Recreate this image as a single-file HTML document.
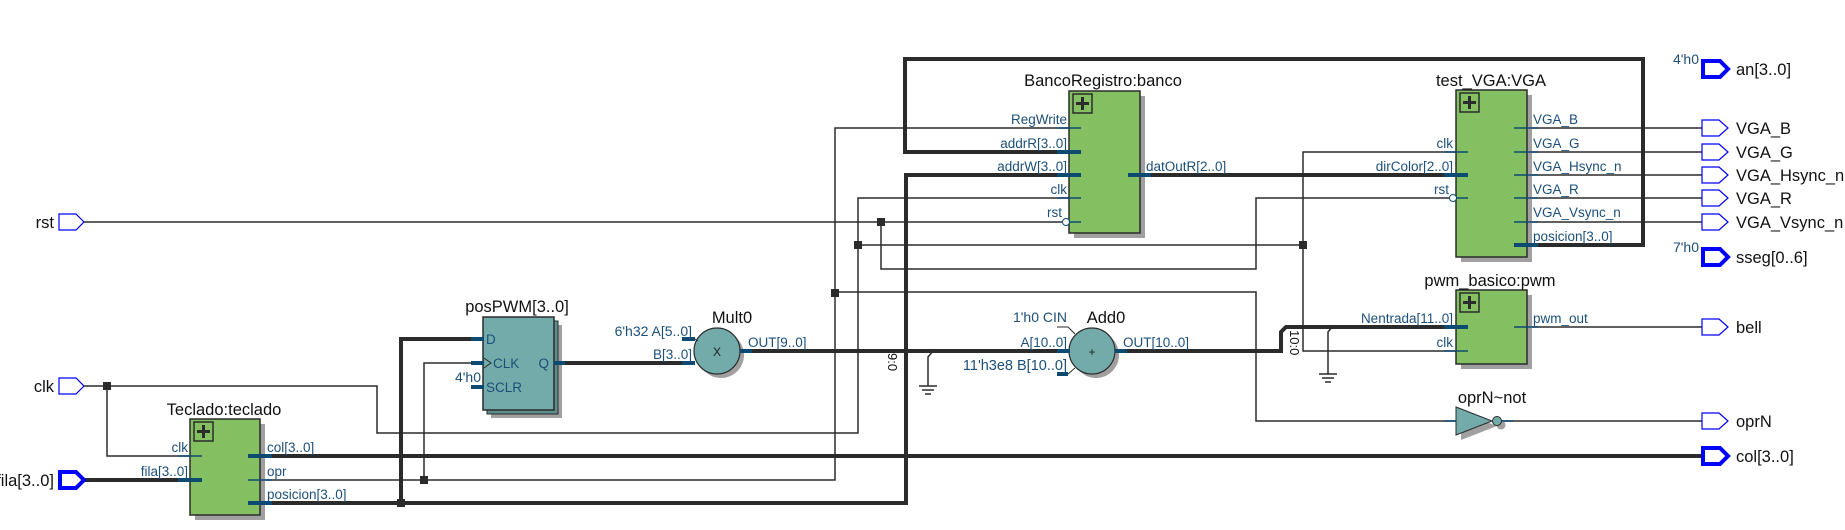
<!DOCTYPE html>
<html><head><meta charset="utf-8"><style>
html,body{margin:0;padding:0;background:#fff;}
svg{display:block;}
text{font-family:"Liberation Sans","DejaVu Sans",sans-serif;}
.t{font-size:16.5px;fill:#111;}
.l{font-size:13.5px;fill:#1c4f7a;}
.p{font-size:16.5px;fill:#111;}
.w{stroke:#2b2b2b;stroke-width:1.5;fill:none;}
.b{stroke:#2b2b2b;stroke-width:4;fill:none;}
.s{stroke:#0d4a72;stroke-width:1.5;}
.sb{stroke:#0d4a72;stroke-width:4;}
.blk{fill:#84c062;stroke:#2b2b2b;stroke-width:1.5;}
.sh{fill:#a0a0a0;}
.pi{fill:none;stroke:#0000ff;stroke-width:1.2;}
.pt{fill:none;stroke:#0000ff;stroke-width:4;}
.j{fill:#2b2b2b;}
</style></head><body>
<svg width="1845" height="530" viewBox="0 0 1845 530" xmlns="http://www.w3.org/2000/svg">
<defs>
<g id="plus"><rect x="0" y="0" width="19" height="19" fill="none" stroke="#2b2b2b" stroke-width="1.5"/><path d="M9.5 3V16M3 9.5H16" stroke="#2b2b2b" stroke-width="3"/></g>
</defs>

<polyline class="b" points="1069,152 905,152 905,59 1643,59 1643,245 1527,245"/>
<polyline class="b" points="260,503 906,503 906,175 1069,175"/>
<polyline class="b" points="401,503 401,339 483,339"/>
<rect class="j" x="397" y="499" width="8" height="8"/>
<line class="b" x1="260" y1="456" x2="1702" y2="456"/>
<line class="b" x1="1140" y1="175" x2="1456" y2="175"/>
<line class="b" x1="554" y1="363" x2="695" y2="363"/>
<line class="b" x1="740" y1="351" x2="1070" y2="351"/>
<polyline class="b" points="1115,351 1281,351 1281,332 1286,327 1456,327"/>
<line class="b" x1="84" y1="480" x2="190" y2="480"/>

<line class="w" x1="84" y1="222" x2="1062" y2="222"/>
<polyline class="w" points="881,222 881,269 1256,269 1256,198 1449,198"/>
<rect class="j" x="877" y="218" width="8" height="8"/>
<polyline class="w" points="84,386 377,386 377,433 858,433 858,198 1069,198"/>
<polyline class="w" points="107,386 107,456 190,456"/>
<rect class="j" x="103" y="382" width="8" height="8"/>
<polyline class="w" points="858,245 1303,245"/>
<rect class="j" x="854" y="241" width="8" height="8"/>
<polyline class="w" points="1456,152 1303,152 1303,351 1456,351"/>
<rect class="j" x="1299" y="241" width="8" height="8"/>
<polyline class="w" points="260,480 835,480 835,128 1069,128"/>
<polyline class="w" points="424,480 424,363 483,363"/>
<rect class="j" x="420" y="476" width="8" height="8"/>
<polyline class="w" points="835,292 1256,292 1256,421 1456,421"/>
<rect class="j" x="831" y="289" width="8" height="8"/>

<line class="w" x1="1527" y1="128" x2="1702" y2="128"/>
<line class="w" x1="1527" y1="152" x2="1702" y2="152"/>
<line class="w" x1="1527" y1="175" x2="1702" y2="175"/>
<line class="w" x1="1527" y1="198" x2="1702" y2="198"/>
<line class="w" x1="1527" y1="222" x2="1702" y2="222"/>
<line class="w" x1="1527" y1="327" x2="1702" y2="327"/>
<line class="w" x1="1501" y1="421" x2="1702" y2="421"/>

<g class="w"><polyline points="933,351 928,357 928,386"/><line x1="919" y1="386" x2="937" y2="386"/><line x1="922" y1="390" x2="934" y2="390"/><line x1="925" y1="394" x2="931" y2="394"/></g>
<g class="w"><polyline points="1332,327 1328,332 1328,374"/><line x1="1319" y1="374" x2="1337" y2="374"/><line x1="1322" y1="378" x2="1334" y2="378"/><line x1="1325" y1="382" x2="1331" y2="382"/></g>
<text x="0" y="0" font-size="13" fill="#111" transform="translate(888,353) rotate(90)">9:0</text>
<text x="0" y="0" font-size="13" fill="#111" transform="translate(1290,330) rotate(90)">10:0</text>

<polygon class="pi" points="59,214 76,214 84,222 76,230 59,230"/>
<text class="p" x="54" y="228" text-anchor="end">rst</text>
<polygon class="pi" points="59,378 76,378 84,386 76,394 59,394"/>
<text class="p" x="54" y="392" text-anchor="end">clk</text>
<polygon class="pt" points="60,472 76,472 84,480 76,488 60,488"/>
<text class="p" x="54" y="486" text-anchor="end">fila[3..0]</text>

<g>
<polygon class="pt" points="1703,61 1720,61 1728,69 1720,77 1703,77"/><text class="p" x="1736" y="75">an[3..0]</text>
<text class="l" x="1699" y="64" text-anchor="end" style="font-size:14px">4'h0</text>
<polygon class="pi" points="1702,120 1719,120 1728,128 1719,136 1702,136"/><text class="p" x="1736" y="134">VGA_B</text>
<polygon class="pi" points="1702,144 1719,144 1728,152 1719,160 1702,160"/><text class="p" x="1736" y="158">VGA_G</text>
<polygon class="pi" points="1702,167 1719,167 1728,175 1719,183 1702,183"/><text class="p" x="1736" y="181">VGA_Hsync_n</text>
<polygon class="pi" points="1702,190 1719,190 1728,198 1719,206 1702,206"/><text class="p" x="1736" y="204">VGA_R</text>
<polygon class="pi" points="1702,214 1719,214 1728,222 1719,230 1702,230"/><text class="p" x="1736" y="228">VGA_Vsync_n</text>
<polygon class="pt" points="1703,249 1720,249 1728,257 1720,265 1703,265"/><text class="p" x="1736" y="263">sseg[0..6]</text>
<text class="l" x="1699" y="252" text-anchor="end" style="font-size:14px">7'h0</text>
<polygon class="pi" points="1702,319 1719,319 1728,327 1719,335 1702,335"/><text class="p" x="1736" y="333">bell</text>
<polygon class="pi" points="1702,413 1719,413 1728,421 1719,429 1702,429"/><text class="p" x="1736" y="427">oprN</text>
<polygon class="pt" points="1703,448 1720,448 1728,456 1720,464 1703,464"/><text class="p" x="1736" y="462">col[3..0]</text>
</g>

<rect class="sh" x="195" y="424" width="70" height="96"/>
<rect class="blk" x="190" y="419" width="70" height="96"/>
<use href="#plus" x="194" y="422"/>
<text class="t" x="224" y="415" text-anchor="middle">Teclado:teclado</text>
<line class="s" x1="178" y1="456" x2="202" y2="456"/><text class="l" x="188" y="452" text-anchor="end">clk</text>
<line class="sb" x1="178" y1="480" x2="202" y2="480"/><text class="l" x="188" y="476" text-anchor="end">fila[3..0]</text>
<line class="sb" x1="248" y1="456" x2="272" y2="456"/><text class="l" x="267" y="452">col[3..0]</text>
<line class="s" x1="248" y1="480" x2="272" y2="480"/><text class="l" x="267" y="476">opr</text>
<line class="sb" x1="248" y1="503" x2="272" y2="503"/><text class="l" x="267" y="499">posicion[3..0]</text>

<rect class="sh" x="491" y="325" width="71" height="93"/>
<rect x="487" y="321" width="71" height="93" fill="#5a8f8e" stroke="#2b2b2b" stroke-width="1"/>
<rect x="483" y="317" width="71" height="93" fill="#72abaa" stroke="#2b2b2b" stroke-width="1.5"/>
<text class="t" x="517" y="312" text-anchor="middle">posPWM[3..0]</text>
<line class="sb" x1="471" y1="339" x2="484" y2="339"/><text class="l" x="486" y="344">D</text>
<line class="sb" x1="471" y1="363" x2="484" y2="363"/><polyline points="484,358 491,363 484,368" fill="none" stroke="#2b2b2b" stroke-width="1"/><text class="l" x="493" y="368">CLK</text>
<line class="sb" x1="471" y1="387" x2="484" y2="387"/><text class="l" x="486" y="392">SCLR</text>
<text class="l" x="481" y="382" text-anchor="end" style="font-size:14px">4'h0</text>
<text class="l" x="549" y="368" text-anchor="end">Q</text>
<line class="sb" x1="554" y1="363" x2="565" y2="363"/>

<circle cx="721" cy="355" r="23" fill="#a0a0a0"/>
<circle cx="717" cy="351" r="23" fill="#72abaa" stroke="#2b2b2b" stroke-width="1.2"/>
<text x="717" y="356" font-size="12" text-anchor="middle" fill="#222">X</text>
<text class="t" x="732" y="323" text-anchor="middle">Mult0</text>
<line class="sb" x1="682" y1="339" x2="695" y2="339"/><line x1="695" y1="339" x2="698" y2="341" stroke="#2b2b2b"/>
<text class="l" x="692" y="336" text-anchor="end" style="font-size:14px">6'h32 A[5..0]</text>
<line class="sb" x1="682" y1="363" x2="695" y2="363"/>
<text class="l" x="692" y="359" text-anchor="end">B[3..0]</text>
<line class="sb" x1="740" y1="351" x2="752" y2="351"/>
<text class="l" x="748" y="347">OUT[9..0]</text>

<circle cx="1096" cy="355" r="23" fill="#a0a0a0"/>
<circle cx="1092" cy="351" r="23" fill="#72abaa" stroke="#2b2b2b" stroke-width="1.2"/>
<text x="1092" y="356" font-size="12" text-anchor="middle" fill="#222">+</text>
<text class="t" x="1106" y="323" text-anchor="middle">Add0</text>
<polyline points="1057,327 1068,327 1075,334" fill="none" stroke="#2b2b2b" stroke-width="1"/>
<text class="l" x="1067" y="322" text-anchor="end" style="font-size:14px">1'h0 CIN</text>
<line class="sb" x1="1057" y1="351" x2="1070" y2="351"/>
<text class="l" x="1067" y="347" text-anchor="end">A[10..0]</text>
<line class="sb" x1="1057" y1="374" x2="1068" y2="374"/><line x1="1068" y1="374" x2="1075" y2="368" stroke="#2b2b2b"/>
<text class="l" x="1067" y="370" text-anchor="end" style="font-size:14.5px">11'h3e8 B[10..0]</text>
<line class="sb" x1="1115" y1="351" x2="1127" y2="351"/>
<text class="l" x="1123" y="347">OUT[10..0]</text>

<rect class="sh" x="1074" y="96" width="71" height="142"/>
<rect class="blk" x="1069" y="91" width="71" height="142"/>
<use href="#plus" x="1073" y="94"/>
<text class="t" x="1103" y="86" text-anchor="middle">BancoRegistro:banco</text>
<line class="s" x1="1057" y1="128" x2="1081" y2="128"/><text class="l" x="1067" y="124" text-anchor="end">RegWrite</text>
<line class="sb" x1="1057" y1="152" x2="1081" y2="152"/><text class="l" x="1067" y="148" text-anchor="end">addrR[3..0]</text>
<line class="sb" x1="1057" y1="175" x2="1081" y2="175"/><text class="l" x="1067" y="171" text-anchor="end">addrW[3..0]</text>
<line class="s" x1="1057" y1="198" x2="1081" y2="198"/><text class="l" x="1067" y="194" text-anchor="end">clk</text>
<line class="s" x1="1069" y1="222" x2="1081" y2="222"/><circle cx="1066" cy="222" r="3.5" fill="#fff" stroke="#0d4a72" stroke-width="1"/><text class="l" x="1062" y="217" text-anchor="end">rst</text>
<line class="sb" x1="1128" y1="175" x2="1151" y2="175"/><text class="l" x="1146" y="171">datOutR[2..0]</text>

<rect class="sh" x="1461" y="95" width="71" height="167"/>
<rect class="blk" x="1456" y="90" width="71" height="167"/>
<use href="#plus" x="1460" y="93"/>
<text class="t" x="1491" y="86" text-anchor="middle">test_VGA:VGA</text>
<line class="s" x1="1444" y1="152" x2="1468" y2="152"/><text class="l" x="1453" y="148" text-anchor="end">clk</text>
<line class="sb" x1="1444" y1="175" x2="1468" y2="175"/><text class="l" x="1453" y="171" text-anchor="end">dirColor[2..0]</text>
<line class="s" x1="1456" y1="198" x2="1468" y2="198"/><circle cx="1453" cy="198" r="3.5" fill="#fff" stroke="#0d4a72" stroke-width="1"/><text class="l" x="1449" y="194" text-anchor="end">rst</text>
<line class="s" x1="1514" y1="128" x2="1538" y2="128"/><text class="l" x="1533" y="124">VGA_B</text>
<line class="s" x1="1514" y1="152" x2="1538" y2="152"/><text class="l" x="1533" y="148">VGA_G</text>
<line class="s" x1="1514" y1="175" x2="1538" y2="175"/><text class="l" x="1533" y="171">VGA_Hsync_n</text>
<line class="s" x1="1514" y1="198" x2="1538" y2="198"/><text class="l" x="1533" y="194">VGA_R</text>
<line class="s" x1="1514" y1="222" x2="1538" y2="222"/><text class="l" x="1533" y="217">VGA_Vsync_n</text>
<line class="sb" x1="1514" y1="245" x2="1538" y2="245"/><text class="l" x="1533" y="241">posicion[3..0]</text>

<rect class="sh" x="1461" y="295" width="71" height="74"/>
<rect class="blk" x="1456" y="290" width="71" height="74"/>
<use href="#plus" x="1460" y="293"/>
<text class="t" x="1490" y="286" text-anchor="middle">pwm_basico:pwm</text>
<line class="sb" x1="1444" y1="327" x2="1468" y2="327"/><text class="l" x="1453" y="323" text-anchor="end">Nentrada[11..0]</text>
<line class="s" x1="1444" y1="351" x2="1468" y2="351"/><text class="l" x="1453" y="347" text-anchor="end">clk</text>
<line class="s" x1="1514" y1="327" x2="1538" y2="327"/><text class="l" x="1533" y="323">pwm_out</text>

<polygon points="1461,412 1497,426 1461,440" fill="#a0a0a0"/>
<circle cx="1501" cy="425" r="4.5" fill="#a0a0a0"/>
<polygon points="1456,407 1492,421 1456,435" fill="#72abaa" stroke="#2b2b2b" stroke-width="1"/>
<circle cx="1497" cy="421" r="4.5" fill="#72abaa" stroke="#2b2b2b" stroke-width="1"/>
<line class="s" x1="1444" y1="421" x2="1456" y2="421"/>
<line class="s" x1="1501" y1="421" x2="1513" y2="421"/>
<text class="t" x="1492" y="403" text-anchor="middle">oprN~not</text>
</svg>
</body></html>
